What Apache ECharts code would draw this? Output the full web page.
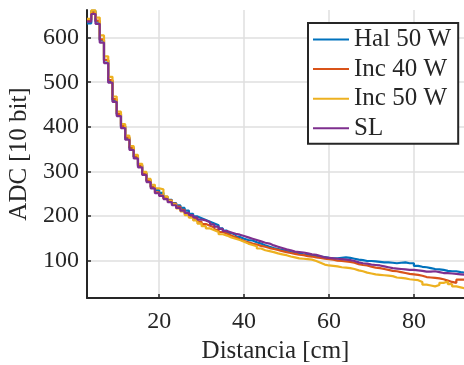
<!DOCTYPE html>
<html><head><meta charset="utf-8">
<script src="https://cdn.jsdelivr.net/npm/echarts@6/dist/echarts.min.js"></script>
<style>html,body{margin:0;padding:0;background:#fff}#c{width:464px;height:365px}</style>
</head><body><div id="c"></div>
<script>
// distance bins (cm)
const distancia = [];
for (let d = 3; d <= 92; d++) distancia.push(d);

const hal50 = [632,660,636,594,549,503,460,428,400,375,352,333,313,296,280,266,258,252,243,236,229,224,218,212,205,199,195,191,187,183,179,172,167,162,158,153,149,146,145,141,138,134,131,128,126,124,121,119,117,116,114,113,112,110,109,108,106,105,105,106,107,106,104,102,101,99,99,98,97,96,96,95,94,95,96,94,94,88,86,85,83,81,80,79,77,76,76,74,73,72];
const inc40 = [640,656,638,596,550,505,462,429,402,376,353,333,313,295,279,265,253,246,240,235,228,221,214,206,199,193,187,182,178,174,169,164,160,156,152,148,144,141,138,136,133,131,128,126,124,121,119,117,115,113,112,110,109,107,106,104,103,102,100,99,98,97,95,92,90,89,86,84,83,81,79,77,76,74,72,70,69,68,66,63,62,61,60,58,55,52,50,57,57,56];
const inc50 = [642,661,645,605,558,512,468,434,406,380,357,337,317,299,283,270,262,260,244,234,226,217,210,202,196,190,183,177,172,168,164,159,156,152,149,146,142,138,135,132,127,123,121,119,116,114,112,109,107,105,104,103,102,99,95,91,89,88,87,85,84,83,81,78,76,73,71,69,68,67,66,65,62,61,60,58,57,56,52,46,44,42,45,50,53,47,42,40,38,40];
const sl = [636,653,631,589,543,499,456,424,397,371,348,329,309,292,276,262,251,245,238,231,224,218,212,207,202,197,192,190,186,181,176,171,166,163,160,158,155,152,149,146,143,140,138,134,131,128,125,123,120,119,118,116,114,113,110,107,106,105,104,103,102,101,99,96,94,93,91,90,89,87,85,83,82,81,80,79,79,78,77,75,75,76,74,72,72,71,70,69,68,68];

const seriesNames = ['Hal 50 W', 'Inc 40 W', 'Inc 50 W', 'SL'];
const seriesValues = [hal50, inc40, inc50, sl];
const colors = ['#0072BD', '#D95319', '#EDB120', '#7E2F8E'];
const xTicks = [20, 40, 60, 80];
const yTicks = [100, 200, 300, 400, 500, 600];

const FONT = 'Liberation Serif';
const TXT = '#262626';

const chart = echarts.init(document.getElementById('c'), null, {renderer: 'canvas'});
chart.setOption({
  animation: false,
  backgroundColor: '#fff',
  color: colors,
  grid: {left: 87, top: 10, right: 0, bottom: 67, containLabel: false, outerBoundsMode: 'none'},
  legend: {
    orient: 'vertical',
    left: 308, top: 23,
    padding: [4, 7, 3, 5],
    itemGap: 4.6,
    itemWidth: 36, itemHeight: 2,
    icon: 'rect',
    backgroundColor: '#fff',
    borderColor: TXT, borderWidth: 2,
    textStyle: {fontFamily: FONT, fontSize: 25, color: TXT},
    data: seriesNames
  },
  xAxis: {
    type: 'value', min: 3, max: 91.8,
    name: 'Distancia [cm]', nameLocation: 'middle', nameGap: 41,
    nameTextStyle: {fontFamily: FONT, fontSize: 25, color: TXT},
    axisLine: {show: true, onZero: false, lineStyle: {color: TXT, width: 2}},
    axisTick: {show: true, inside: true, length: 4, customValues: xTicks, lineStyle: {color: TXT, width: 1.5}},
    axisLabel: {customValues: xTicks, margin: 12, fontFamily: FONT, fontSize: 24, color: TXT},
    splitLine: {show: true, lineStyle: {color: '#dfdfdf', width: 1.5}}
  },
  yAxis: {
    type: 'value', min: 16, max: 662,
    name: 'ADC [10 bit]', nameLocation: 'middle', nameGap: 47,
    nameTextStyle: {fontFamily: FONT, fontSize: 25, color: TXT},
    axisLine: {show: true, onZero: false, lineStyle: {color: TXT, width: 2}},
    axisTick: {show: true, inside: true, length: 4, customValues: yTicks, lineStyle: {color: TXT, width: 1.5}},
    axisLabel: {customValues: yTicks, margin: 8, fontFamily: FONT, fontSize: 24, color: TXT},
    splitLine: {show: true, lineStyle: {color: '#dfdfdf', width: 1.5}}
  },
  series: seriesNames.map((n, i) => ({
    name: n, type: 'line', step: 'end', showSymbol: false, symbol: 'none',
    lineStyle: {width: 2.2, color: colors[i]},
    itemStyle: {color: colors[i]},
    clip: true,
    data: distancia.map((d, k) => [d, seriesValues[i][k]])
  }))
});
</script></body></html>
